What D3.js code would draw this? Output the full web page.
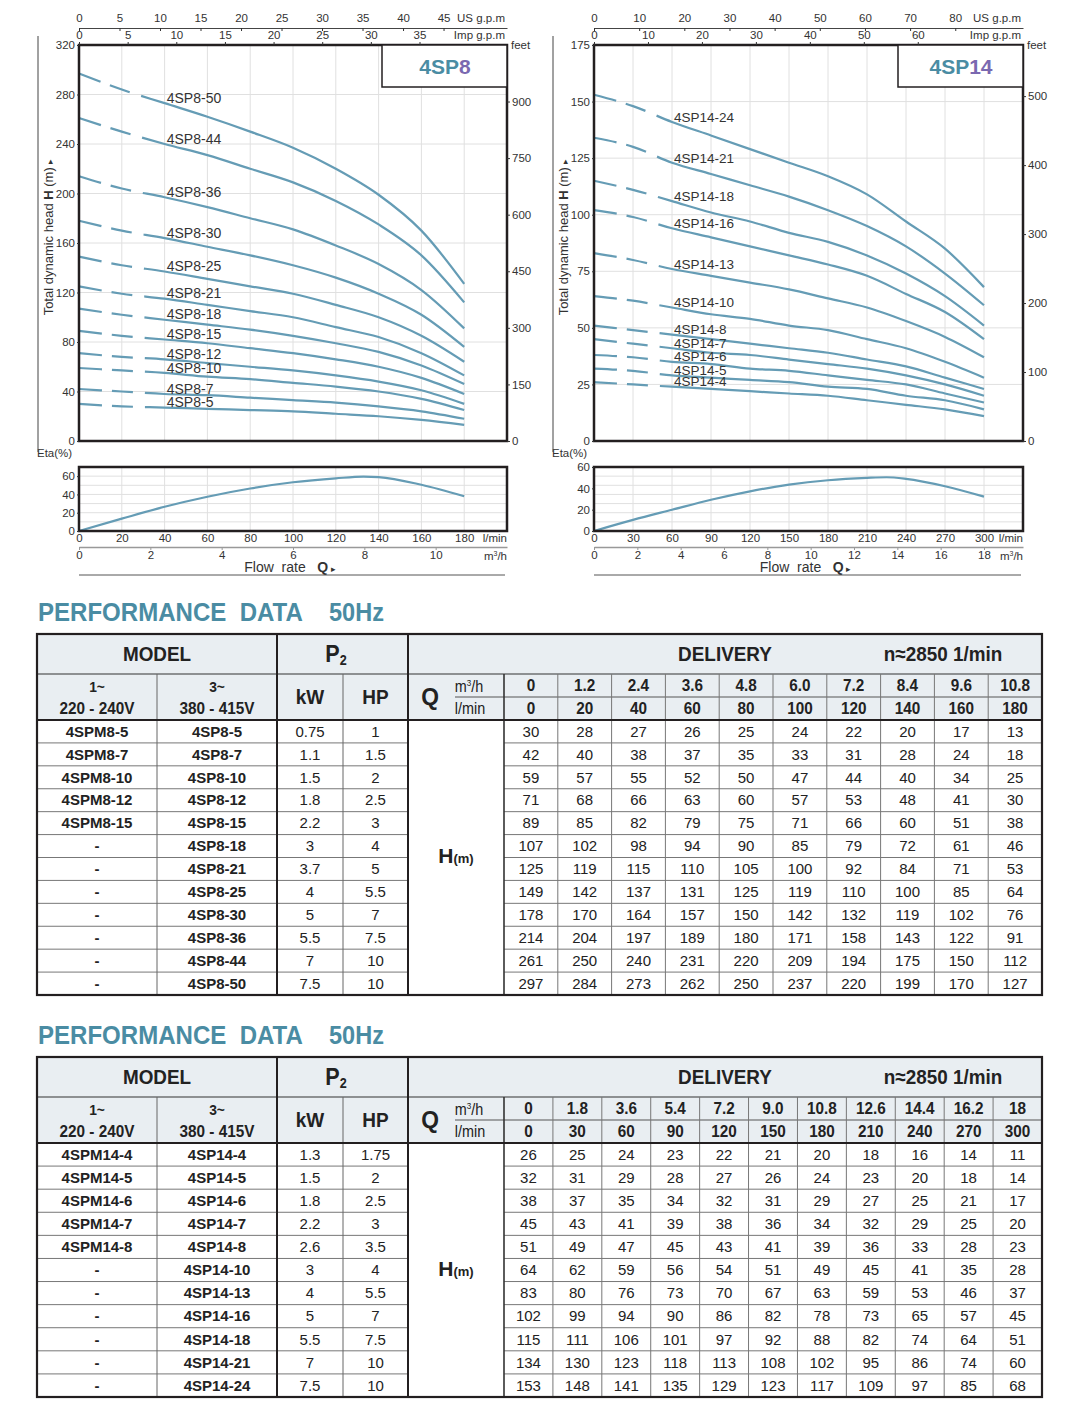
<!DOCTYPE html>
<html><head><meta charset="utf-8">
<script src="https://cdn.jsdelivr.net/npm/d3@7"></script>
<style>body{margin:0;background:#fff} svg text{font-family:"Liberation Sans",Arial,Helvetica,sans-serif;white-space:pre}</style>
</head><body><svg id="c" width="1072" height="1416"></svg>
<script>
// ---------------- DATA ----------------
// 4SP8 series
const flow8 = [0,20,40,60,80,100,120,140,160,180];          // l/min
const m3h8 = ["0","1.2","2.4","3.6","4.8","6.0","7.2","8.4","9.6","10.8"];
const lmin8 = ["0","20","40","60","80","100","120","140","160","180"];
const single8 = ["4SPM8-5","4SPM8-7","4SPM8-10","4SPM8-12","4SPM8-15","-","-","-","-","-","-","-"];
const models8 = ["4SP8-5","4SP8-7","4SP8-10","4SP8-12","4SP8-15","4SP8-18","4SP8-21","4SP8-25","4SP8-30","4SP8-36","4SP8-44","4SP8-50"];
const kw8 = ["0.75","1.1","1.5","1.8","2.2","3","3.7","4","5","5.5","7","7.5"];
const hp8 = ["1","1.5","2","2.5","3","4","5","5.5","7","7.5","10","10"];
const head8 = [
  [30,28,27,26,25,24,22,20,17,13],
  [42,40,38,37,35,33,31,28,24,18],
  [59,57,55,52,50,47,44,40,34,25],
  [71,68,66,63,60,57,53,48,41,30],
  [89,85,82,79,75,71,66,60,51,38],
  [107,102,98,94,90,85,79,72,61,46],
  [125,119,115,110,105,100,92,84,71,53],
  [149,142,137,131,125,119,110,100,85,64],
  [178,170,164,157,150,142,132,119,102,76],
  [214,204,197,189,180,171,158,143,122,91],
  [261,250,240,231,220,209,194,175,150,112],
  [297,284,273,262,250,237,220,199,170,127]
];
const etaQ8 = [0,20,40,60,80,100,120,133,140,160,180];
const eta8  = [0,13.5,26.5,37.5,46.5,53.3,57.6,59.5,59,50.6,38];
const hTicks8 = [0,40,80,120,160,200,240,280,320];
const feetTicks8 = [0,150,300,450,600,750,900];
const flowTicks8 = [0,20,40,60,80,100,120,140,160,180];
const m3Ticks8 = [0,2,4,6,8,10];
const usTicks8 = [0,5,10,15,20,25,30,35,40,45];
const impTicks8 = [0,5,10,15,20,25,30,35];
const etaTicks8 = [0,20,40,60];

// 4SP14 series
const flow14 = [0,30,60,90,120,150,180,210,240,270,300];
const m3h14 = ["0","1.8","3.6","5.4","7.2","9.0","10.8","12.6","14.4","16.2","18"];
const lmin14 = ["0","30","60","90","120","150","180","210","240","270","300"];
const single14 = ["4SPM14-4","4SPM14-5","4SPM14-6","4SPM14-7","4SPM14-8","-","-","-","-","-","-"];
const models14 = ["4SP14-4","4SP14-5","4SP14-6","4SP14-7","4SP14-8","4SP14-10","4SP14-13","4SP14-16","4SP14-18","4SP14-21","4SP14-24"];
const kw14 = ["1.3","1.5","1.8","2.2","2.6","3","4","5","5.5","7","7.5"];
const hp14 = ["1.75","2","2.5","3","3.5","4","5.5","7","7.5","10","10"];
const head14 = [
  [26,25,24,23,22,21,20,18,16,14,11],
  [32,31,29,28,27,26,24,23,20,18,14],
  [38,37,35,34,32,31,29,27,25,21,17],
  [45,43,41,39,38,36,34,32,29,25,20],
  [51,49,47,45,43,41,39,36,33,28,23],
  [64,62,59,56,54,51,49,45,41,35,28],
  [83,80,76,73,70,67,63,59,53,46,37],
  [102,99,94,90,86,82,78,73,65,57,45],
  [115,111,106,101,97,92,88,82,74,64,51],
  [134,130,123,118,113,108,102,95,86,74,60],
  [153,148,141,135,129,123,117,109,97,85,68]
];
const etaQ14 = [0,30,60,90,120,150,180,210,225,240,270,300];
const eta14  = [0,10.4,19.9,29.3,37.2,43.5,47.6,49.8,50.4,48.9,42,32.2];
const hTicks14 = [0,25,50,75,100,125,150,175];
const feetTicks14 = [0,100,200,300,400,500];
const flowTicks14 = [0,30,60,90,120,150,180,210,240,270,300];
const m3Ticks14 = [0,2,4,6,8,10,12,14,16,18];
const usTicks14 = [0,10,20,30,40,50,60,70,80];
const impTicks14 = [0,10,20,30,40,50,60];
const etaTicks14 = [0,20,40,60];

// ---------------- DRAW ----------------
const svg = d3.select('#c');
const CURVE = '#659cb5';
const DARK = '#231f20';
const TEAL = '#4a8ca3';
const PURPLE = '#7a68b0';
const FONT = '"Liberation Sans",Arial,Helvetica,sans-serif';

function styleAxis(s){ s.attr('font-size',11.5).attr('font-family',FONT).attr('color','#333'); }
function interp(xs, ys, q){
  for(let i=0;i<xs.length-1;i++){ if(q>=xs[i] && q<=xs[i+1]){ const t=(q-xs[i])/(xs[i+1]-xs[i]); return ys[i]+t*(ys[i+1]-ys[i]); } }
  return ys[ys.length-1];
}

function drawChart(c){
  const g = svg.append('g');
  const T=45, B=441, ET=467, EB=531;
  const x = d3.scaleLinear().domain([0,c.qMax]).range([c.x0,c.x1]);
  const y = d3.scaleLinear().domain([0,c.hMax]).range([B,T]);
  const yFt = d3.scaleLinear().domain([0,c.hMax*3.28084]).range([B,T]);
  const ye = d3.scaleLinear().domain([0,c.etaMax]).range([EB,ET]);
  const xUS = d3.scaleLinear().domain([0,c.usMax]).range([c.x0,c.x1]);
  const xImp = d3.scaleLinear().domain([0,c.impMax]).range([c.x0,c.x1]);
  const xM3 = d3.scaleLinear().domain([0,c.qMax*0.06]).range([c.x0,c.x1]);

  // grids
  const grid = g.append('g').attr('stroke','#e0e0e0').attr('stroke-width',1);
  grid.selectAll('.v').data(c.flowTicks.slice(1)).join('line')
    .attr('x1',d=>x(d)).attr('x2',d=>x(d)).attr('y1',T).attr('y2',B);
  grid.selectAll('.h').data(c.hTicks.slice(1,-1)).join('line').attr('class','h')
    .attr('x1',c.x0).attr('x2',c.x1).attr('y1',d=>y(d)).attr('y2',d=>y(d));
  grid.selectAll('.ev').data(c.flowTicks.slice(1)).join('line').attr('class','ev')
    .attr('x1',d=>x(d)).attr('x2',d=>x(d)).attr('y1',ET).attr('y2',EB);
  grid.selectAll('.eh').data(d3.range(1,7).map(i=>i*c.etaMax/7)).join('line').attr('class','eh')
    .attr('x1',c.x0).attr('x2',c.x1).attr('y1',d=>ye(d)).attr('y2',d=>ye(d));

  // head curves
  const line = d3.line().x((d,i)=>x(c.flow[i])).y(d=>y(d)).curve(d3.curveMonotoneX);
  c.heads.forEach((h,i)=>{
    g.append('path').attr('d',line(h)).attr('fill','none').attr('stroke',CURVE)
      .attr('stroke-width',2.2).attr('stroke-dasharray','23,10,21,12,3000');
  });
  c.heads.forEach((h,i)=>{
    const hv = interp(c.flow,h,c.labelQ);
    g.append('text').attr('x',x(c.labelQ)).attr('y',y(hv)-0.5).attr('font-size',c.labelSize)
      .attr('fill','#333').text(c.models[i]);
  });

  // eta curve
  const eline = d3.line().x((d,i)=>x(c.etaQ[i])).y(d=>ye(d)).curve(d3.curveMonotoneX);
  g.append('path').attr('d',eline(c.eta)).attr('fill','none').attr('stroke',CURVE).attr('stroke-width',2.2);

  // borders
  g.append('rect').attr('x',c.x0).attr('y',T).attr('width',c.x1-c.x0).attr('height',B-T)
    .attr('fill','none').attr('stroke',DARK).attr('stroke-width',2.5);
  g.append('rect').attr('x',c.x0).attr('y',ET).attr('width',c.x1-c.x0).attr('height',EB-ET)
    .attr('fill','none').attr('stroke',DARK).attr('stroke-width',2.5);

  // model box
  g.append('rect').attr('x',c.x1-125).attr('y',T).attr('width',125).attr('height',42)
    .attr('fill','#fff').attr('stroke',DARK).attr('stroke-width',1.5);
  const mt = g.append('text').attr('x',c.x1-62).attr('y',T+29).attr('text-anchor','middle')
    .attr('font-size',21).attr('font-weight','bold');
  mt.append('tspan').attr('fill',TEAL).text('4SP');
  mt.append('tspan').attr('fill',PURPLE).text(c.series);

  // axes
  g.append('g').attr('transform',`translate(${c.x0},0)`)
    .call(d3.axisLeft(y).tickValues(c.hTicks).tickSize(2).tickPadding(2)).call(styleAxis)
    .call(s=>s.select('.domain').remove());
  g.append('g').attr('transform',`translate(${c.x1},0)`)
    .call(d3.axisRight(yFt).tickValues(c.feetTicks).tickSize(3).tickPadding(2)).call(styleAxis)
    .call(s=>s.select('.domain').remove());
  g.append('g').attr('transform',`translate(${c.x0},0)`)
    .call(d3.axisLeft(ye).tickValues(c.etaTicks).tickSize(2).tickPadding(2)).call(styleAxis)
    .call(s=>s.select('.domain').remove());
  // top axes
  g.append('g').attr('transform',`translate(0,28)`)
    .call(d3.axisTop(xUS).tickValues(c.usTicks).tickSize(-3).tickSizeOuter(0).tickPadding(6)).call(styleAxis)
    .call(s=>s.select('.domain').attr('stroke','#444'));
  g.append('g').attr('transform',`translate(0,${T})`)
    .call(d3.axisTop(xImp).tickValues(c.impTicks).tickSize(3).tickPadding(3)).call(styleAxis)
    .call(s=>s.select('.domain').remove());
  // bottom axes
  g.append('g').attr('transform',`translate(0,${EB})`)
    .call(d3.axisBottom(x).tickValues(c.flowTicks).tickSize(0).tickPadding(3)).call(styleAxis)
    .call(s=>s.select('.domain').remove());
  g.append('g').attr('transform',`translate(0,547)`)
    .call(d3.axisBottom(xM3).tickValues(c.m3Ticks).tickSize(3).tickSizeOuter(0).tickPadding(1)).call(styleAxis)
    .call(s=>{s.select('.domain').attr('stroke','#999').attr('stroke-width',1.5); s.selectAll('.tick line').attr('stroke','#999');});

  // unit labels
  const lab = (xx,yy,str,anchor)=>g.append('text').attr('x',xx).attr('y',yy).attr('font-size',11.5)
    .attr('fill','#333').attr('text-anchor',anchor||'start').text(str);
  lab(c.x1-2,22,'US g.p.m','end');
  lab(c.x1-2,39,'Imp g.p.m','end');
  lab(c.x1+4,49,'feet');
  lab(c.x1,542,'l/min','end');
  const m3 = g.append('text').attr('x',c.x1).attr('y',560).attr('font-size',11.5).attr('fill','#333').attr('text-anchor','end');
  m3.append('tspan').text('m');
  m3.append('tspan').attr('font-size',7).attr('dy',-4).text('3');
  m3.append('tspan').attr('dy',4).text('/h');
  lab(c.x0-42,457,'Eta(%)');

  // flow rate title
  const fr = g.append('text').attr('x',(c.x0+c.x1)/2-3).attr('y',572).attr('text-anchor','middle')
    .attr('font-size',14).attr('fill','#333');
  fr.append('tspan').text('Flow  rate   ');
  fr.append('tspan').attr('font-weight','bold').text('Q');
  fr.append('tspan').attr('font-size',9).text(' ▸');
  g.append('line').attr('x1',c.x0).attr('x2',c.x1-2).attr('y1',575).attr('y2',575).attr('stroke','#555').attr('stroke-width',1);

  // y title
  const yt = g.append('text').attr('transform',`translate(${c.x0-26},237) rotate(-90)`)
    .attr('text-anchor','middle').attr('font-size',13).attr('fill','#333');
  yt.append('tspan').text('Total dynamic head ');
  yt.append('tspan').attr('font-weight','bold').text('H');
  yt.append('tspan').text(' (m) ');
  yt.append('tspan').attr('font-size',9).text('▸');
  g.append('line').attr('x1',c.x0-41).attr('x2',c.x0-41).attr('y1',36).attr('y2',452).attr('stroke','#444').attr('stroke-width',1);
}

drawChart({series:'8', x0:79, x1:507, qMax:200, hMax:320, etaMax:70,
  usMax:200*0.264172, impMax:200*0.219969, labelQ:41, labelSize:14,
  flow:flow8, heads:head8, models:models8, etaQ:etaQ8, eta:eta8,
  hTicks:hTicks8, feetTicks:feetTicks8, flowTicks:flowTicks8, m3Ticks:m3Ticks8,
  usTicks:usTicks8, impTicks:impTicks8, etaTicks:etaTicks8});
drawChart({series:'14', x0:594, x1:1023, qMax:330, hMax:175, etaMax:60,
  usMax:95, impMax:79.5, labelQ:61.5, labelSize:13.5,
  flow:flow14, heads:head14, models:models14, etaQ:etaQ14, eta:eta14,
  hTicks:hTicks14, feetTicks:feetTicks14, flowTicks:flowTicks14, m3Ticks:m3Ticks14,
  usTicks:usTicks14, impTicks:impTicks14, etaTicks:etaTicks14});

// ---------------- TABLES ----------------
function ctext(g,x,y,str,size,sx,opts){
  opts = opts||{};
  const t = g.append('text').attr('transform',`translate(${x},${y}) scale(${sx},1)`)
    .attr('text-anchor',opts.anchor||'middle').attr('dy','0.35em').attr('font-size',size)
    .attr('font-weight',opts.weight||'bold').attr('fill',opts.fill||'#222').text(str);
  return t;
}
function drawTable(t){
  const g = svg.append('g');
  const L=37, R=1042;
  const top=t.top, r1=top+40, r2=top+63, r3=top+86, bot=t.bottom;
  const xc = d3.scaleBand().domain(d3.range(t.m3h.length)).range([504,R]);
  const yr = d3.scaleBand().domain(d3.range(t.models.length)).range([r3,bot]);
  const bw = xc.bandwidth();

  // title
  ctext(g,38,top-22,'PERFORMANCE  DATA',26,0.925,{anchor:'start',fill:TEAL});
  ctext(g,329,top-22,'50Hz',26,0.905,{anchor:'start',fill:TEAL});

  g.append('rect').attr('x',L).attr('y',top).attr('width',R-L).attr('height',r3-top).attr('fill','#e9eef2');

  const ln = (x1,y1,x2,y2,w,col)=>g.append('line').attr('x1',x1).attr('y1',y1).attr('x2',x2).attr('y2',y2)
    .attr('stroke',col||'#666').attr('stroke-width',w||1);
  // horizontal
  ln(L,r1,R,r1,1.2,'#333');
  ln(455,r2,R,r2,1,'#555');
  yr.domain().slice(1).forEach(i=>{ ln(L,yr(i),408,yr(i),1,'#777'); ln(504,yr(i),R,yr(i),1,'#777'); });
  // vertical
  ln(157,r1,157,bot,1,'#666');
  ln(343,r1,343,bot,1,'#666');
  xc.domain().slice(1).forEach(i=>ln(xc(i),r1,xc(i),bot,1,'#777'));
  ln(504,r1,504,bot,1.6,'#333');
  ln(277,top,277,bot,2,DARK);
  ln(408,top,408,bot,2,DARK);
  ln(L,r3,R,r3,2,DARK);
  g.append('rect').attr('x',L).attr('y',top).attr('width',R-L).attr('height',bot-top)
    .attr('fill','none').attr('stroke',DARK).attr('stroke-width',2.2);

  // header row 1
  const h1 = (top+r1)/2;
  ctext(g,157,h1,'MODEL',21,0.9);
  const p2 = g.append('text').attr('transform',`translate(336,${h1}) scale(0.9,1)`).attr('text-anchor','middle')
    .attr('dy','0.35em').attr('font-size',24).attr('font-weight','bold').attr('fill','#222');
  p2.append('tspan').text('P');
  p2.append('tspan').attr('font-size',14).attr('dy',3).text('2');
  ctext(g,725,h1,'DELIVERY',21,0.9);
  ctext(g,943,h1,'n≈2850 1/min',21,0.9);

  // header row 2
  const ra = (r1+r2)/2+1, rb = (r2+r3)/2;
  ctext(g,97,ra,'1~',15,0.92);
  ctext(g,97,rb,'220 - 240V',16.5,0.93);
  ctext(g,217,ra,'3~',15,0.92);
  ctext(g,217,rb,'380 - 415V',16.5,0.93);
  ctext(g,310,(r1+r3)/2,'kW',20,0.95);
  ctext(g,375.5,(r1+r3)/2,'HP',20,0.95);
  ctext(g,430,(r1+r3)/2,'Q',24,0.95);
  const mu = g.append('text').attr('transform',`translate(469,${ra}) scale(0.9,1)`).attr('text-anchor','middle')
    .attr('dy','0.35em').attr('font-size',16).attr('fill','#222');
  mu.append('tspan').text('m');
  mu.append('tspan').attr('font-size',9).attr('dy',-6).text('3');
  mu.append('tspan').attr('dy',6).text('/h');
  ctext(g,470,rb,'l/min',16,0.9,{weight:'normal'});
  t.m3h.forEach((d,i)=>ctext(g,xc(i)+bw/2,(r1+r2)/2,d,17,0.9));
  t.lmin.forEach((d,i)=>ctext(g,xc(i)+bw/2,rb,d,17,0.9));

  // body
  t.models.forEach((m,i)=>{
    const cy = yr(i)+yr.bandwidth()/2;
    const bt = (xx,s,w)=>g.append('text').attr('x',xx).attr('y',cy).attr('dy','0.35em').attr('text-anchor','middle')
      .attr('font-size',15).attr('font-weight',w||'normal').attr('fill','#222').text(s);
    bt(97,t.single[i],'bold');
    bt(217,m,'bold');
    bt(310,t.kw[i]);
    bt(375.5,t.hp[i]);
    t.heads[i].forEach((v,j)=>bt(xc(j)+bw/2,v));
  });
  const hm = g.append('text').attr('x',456).attr('y',(r3+bot)/2).attr('dy','0.35em').attr('text-anchor','middle')
    .attr('font-weight','bold').attr('fill','#222');
  hm.append('tspan').attr('font-size',21).text('H');
  hm.append('tspan').attr('font-size',13).text('(m)');
}

drawTable({top:634, bottom:995, m3h:m3h8, lmin:lmin8, single:single8, models:models8, kw:kw8, hp:hp8, heads:head8});
drawTable({top:1057, bottom:1397, m3h:m3h14, lmin:lmin14, single:single14, models:models14, kw:kw14, hp:hp14, heads:head14});
</script></body></html>
